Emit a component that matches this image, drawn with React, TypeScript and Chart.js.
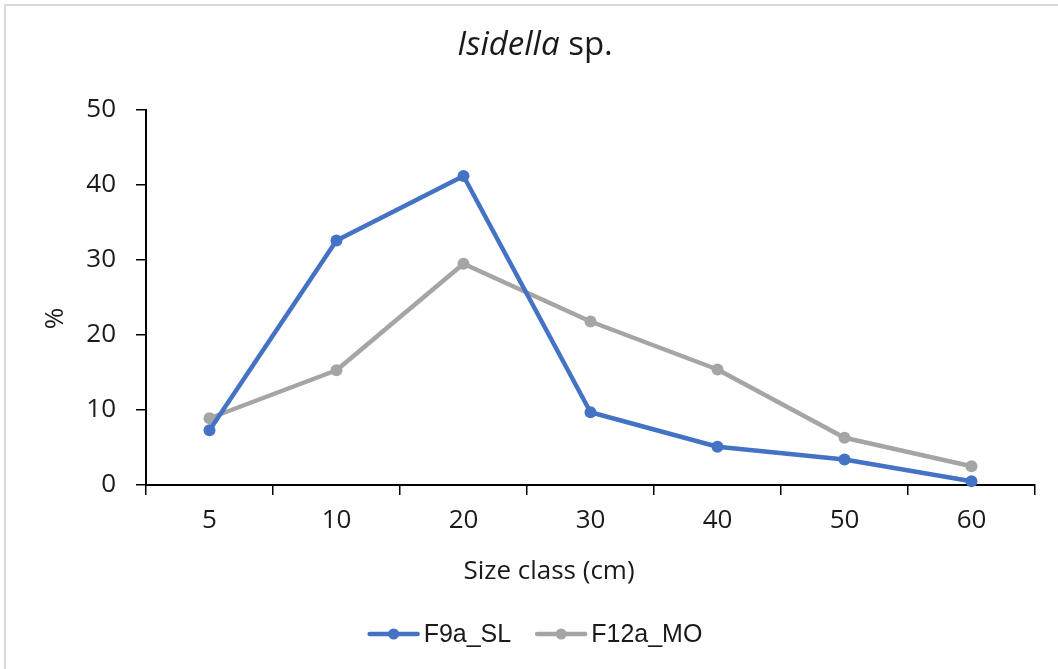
import { useEffect, useRef } from "react";
import { Chart, registerables } from "chart.js";

Chart.register(...registerables);

const categories = ["5", "10", "20", "30", "40", "50", "60"];
const f9aSL = [7.3, 32.6, 41.2, 9.7, 5.1, 3.4, 0.5];
const f12aMO = [8.9, 15.3, 29.5, 21.8, 15.4, 6.3, 2.5];
const seriesNames = ["F9a_SL", "F12a_MO"];
const seriesColors = ["#4472C4", "#A5A5A5"];
const yMin = 0;
const yMax = 50;
const yStep = 10;
const titleItalic = "Isidella";
const titleRest = " sp.";
const xTitle = "Size class (cm)";
const yTitle = "%";

const FONT = '"Open Sans", sans-serif';
const TEXT = "#1a1a1a";

const decor = {
  id: "decor",
  beforeDraw(chart: any) {
    const ctx = chart.ctx;
    ctx.save();
    ctx.fillStyle = "#ffffff";
    ctx.fillRect(0, 0, chart.width, chart.height);
    ctx.fillStyle = "#d9d9d9";
    ctx.fillRect(4, 4, chart.width - 4, 2);
    ctx.fillRect(4, 4, 2, chart.height - 4);
    ctx.restore();
  },
  afterDraw(chart: any) {
    const ctx = chart.ctx;
    const ca = chart.chartArea;
    ctx.save();
    ctx.fillStyle = TEXT;
    ctx.textBaseline = "middle";
    ctx.textAlign = "left";
    // title
    const f1 = `italic 33px ${FONT}`;
    const f2 = `33px ${FONT}`;
    ctx.font = f1;
    const w1 = ctx.measureText(titleItalic).width;
    ctx.font = f2;
    const w2 = ctx.measureText(titleRest).width;
    const tx = chart.width / 2 + 6 - (w1 + w2) / 2;
    ctx.font = f1;
    ctx.fillText(titleItalic, tx, 46);
    ctx.font = f2;
    ctx.fillText(titleRest, tx + w1, 46);
    // x title
    ctx.font = `26px ${FONT}`;
    ctx.textAlign = "center";
    ctx.fillText(xTitle, 549, 572);
    // y title
    ctx.save();
    ctx.translate(56, (ca.top + ca.bottom) / 2 + 21);
    ctx.rotate(-Math.PI / 2);
    ctx.fillText(yTitle, 0, 0);
    ctx.restore();
    // legend
    ctx.font = `25px "Liberation Sans", Arial, sans-serif`;
    ctx.textAlign = "left";
    const lineLen = 48;
    const gapText = 6;
    const gapItem = 26;
    const widths = seriesNames.map((n) => lineLen + gapText + ctx.measureText(n).width);
    const total = widths.reduce((a, b) => a + b, 0) + gapItem * (seriesNames.length - 1);
    let x = chart.width / 2 + 7 - total / 2;
    const ly = 634;
    seriesNames.forEach((n, i) => {
      ctx.strokeStyle = seriesColors[i];
      ctx.fillStyle = seriesColors[i];
      ctx.lineWidth = 4.5;
      ctx.lineCap = "round";
      ctx.beginPath();
      ctx.moveTo(x, ly);
      ctx.lineTo(x + lineLen, ly);
      ctx.stroke();
      ctx.beginPath();
      ctx.arc(x + lineLen / 2, ly, 5.5, 0, Math.PI * 2);
      ctx.fill();
      ctx.fillStyle = TEXT;
      ctx.fillText(n, x + lineLen + gapText, ly + 1);
      x += widths[i] + gapItem;
    });
    ctx.restore();
  },
};

export default function App() {
  const ref = useRef<HTMLCanvasElement | null>(null);
  useEffect(() => {
    document.body.style.margin = "0";
    const canvas = ref.current;
    if (!canvas) return;
    const chart = new Chart(canvas, {
      type: "line",
      data: {
        labels: categories,
        datasets: [f9aSL, f12aMO].map((d, i) => ({
          label: seriesNames[i],
          data: d,
          borderColor: seriesColors[i],
          backgroundColor: seriesColors[i],
          pointBackgroundColor: seriesColors[i],
          pointBorderColor: seriesColors[i],
          borderWidth: 4.5,
          pointRadius: 6,
          pointBorderWidth: 0,
          tension: 0,
          borderJoinStyle: "round" as const,
          borderCapStyle: "round" as const,
          clip: false as any,
        })),
      },
      options: {
        animation: false,
        responsive: false,
        maintainAspectRatio: false,
        layout: { padding: { left: 0, right: 23, top: 110, bottom: 84 } },
        plugins: {
          legend: { display: false },
          title: { display: false },
          tooltip: { enabled: false },
        },
        scales: {
          x: {
            type: "category",
            offset: true,
            grid: {
              offset: true,
              drawOnChartArea: false,
              drawTicks: true,
              tickLength: 10,
              color: "#000000",
              lineWidth: 1.5,
            },
            border: { display: true, color: "#000000", width: 2 },
            ticks: {
              color: TEXT,
              font: { family: FONT, size: 26 },
              padding: 10,
              maxRotation: 0,
            },
            afterFit(scale: any) {
              scale.height = 100;
            },
          },
          y: {
            min: yMin,
            max: yMax,
            grid: {
              drawOnChartArea: false,
              drawTicks: true,
              tickLength: 10,
              color: "#000000",
              lineWidth: 1.5,
            },
            border: { display: true, color: "#000000", width: 2 },
            ticks: {
              stepSize: yStep,
              color: TEXT,
              font: { family: FONT, size: 26 },
              padding: 20,
            },
            afterFit(scale: any) {
              scale.width = 146;
            },
          },
        },
      },
      plugins: [decor],
    });
    return () => chart.destroy();
  }, []);
  return (
    <div style={{ position: "absolute", left: 0, top: 0, width: 1058, height: 669 }}>
      <canvas ref={ref} width={1058} height={669} style={{ display: "block" }} />
    </div>
  );
}
